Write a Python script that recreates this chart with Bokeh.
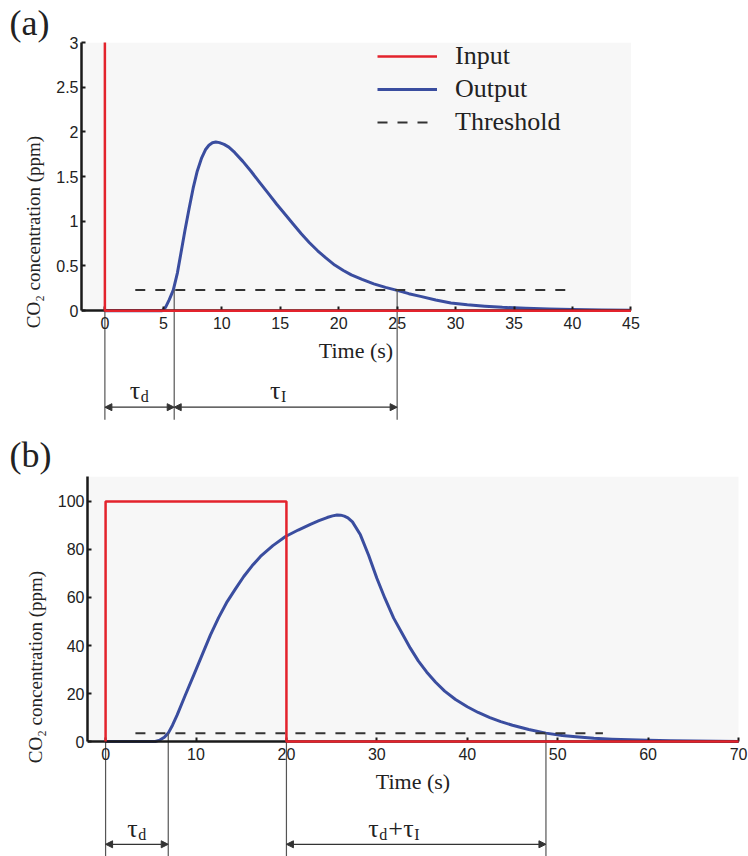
import numpy as np
from bokeh.plotting import figure
from bokeh.models import (ColumnDataSource, BoxAnnotation, Legend, LegendItem, Arrow,
                          NormalHead, Title, Range1d, FixedTicker)
from bokeh.layouts import column, row
from bokeh.embed import file_html
from bokeh.resources import INLINE
from bokeh.core.properties import value

# ---------------- data: panel (a) ----------------
a_input_t = [0, 0, 45]
a_input_c = [3, 0, 0]
a_out_t = [0, 4.9, 5.2, 5.5, 5.85, 6.2, 6.5, 6.84, 7.2, 7.55, 7.9, 8.28, 8.6, 8.9, 9.2, 9.49,
           9.8, 10.2, 10.6, 11.1, 11.8, 12.5, 13.2, 13.96, 14.7, 15.5, 16.1, 16.8, 17.5, 18.2,
           18.9, 19.66, 20.4, 21.08, 22, 23, 24, 25, 26, 27, 28.3, 29.6, 31, 32.5, 34, 36,
           38, 40, 42.5, 45]
a_out_c = [0, 0, 0.04, 0.12, 0.23, 0.42, 0.64, 0.89, 1.14, 1.37, 1.56, 1.71, 1.80, 1.85, 1.878,
           1.886, 1.88, 1.86, 1.83, 1.77, 1.67, 1.56, 1.44, 1.315, 1.19, 1.065, 0.97, 0.86, 0.76,
           0.67, 0.59, 0.51, 0.45, 0.40, 0.35, 0.30, 0.26, 0.227, 0.19, 0.16, 0.12, 0.085,
           0.065, 0.05, 0.037, 0.026, 0.018, 0.012, 0.008, 0.005]
a_thr_t = [2.6, 40.1]
a_thr_c = [0.23, 0.23]
a_yticks = [0, 0.5, 1, 1.5, 2, 2.5, 3]
a_ytick_labels = ["0", "0.5", "1", "1.5", "2", "2.5", "3"]
a_xticks = [0, 5, 10, 15, 20, 25, 30, 35, 40, 45]
a_marks = [0, 5.93, 25]          # t=0, end of tau_d, end of tau_I
a_mark_top = [0, 0.23, 0.23]

# ---------------- data: panel (b) ----------------
b_input_t = [0, 0, 20, 20, 70]
b_input_c = [0, 100, 100, 0, 0]
b_out_t = [0, 5.5, 6.0, 6.5, 6.93, 7.4, 7.92, 8.8, 9.76, 10.7, 11.6, 12.5, 13.45, 14.4,
           15.28, 16.2, 17.13, 18.5, 19.9, 21.3, 22.65, 23.6, 24.5, 25.1, 25.6, 26.0, 26.4,
           26.8, 27.3, 28.18, 29.1, 30.0, 30.9, 31.86, 32.8, 33.7, 34.6, 35.5, 36.5, 37.5,
           38.7, 40, 41.2, 42.5, 43.7, 45, 46.8, 48.7, 50.5, 52, 54, 56, 58, 60, 62.5, 65,
           67.5, 70]
b_out_c = [0, 0, 0.6, 1.8, 3.5, 6.8, 11.1, 19.2, 27.8, 36.3, 44.4, 51.6, 58.3, 63.8,
           68.75, 73.2, 77.1, 81.6, 85.4, 88.1, 90.5, 92.0, 93.3, 94.0, 94.4, 94.3, 93.9,
           93.2, 91.5, 86.1, 77.5, 68, 59.6, 51.4, 45.0, 38.9, 33.5, 29, 24.7, 21,
           17.5, 14.5, 12.1, 10, 8.3, 6.8, 5.0, 3.5, 2.5, 2.0, 1.4, 1.0, 0.7, 0.5, 0.3, 0.2,
           0.1, 0.05]
b_thr_t = [3.3, 55]
b_thr_c = [3.5, 3.5]
b_yticks = [0, 20, 40, 60, 80, 100]
b_xticks = [0, 10, 20, 30, 40, 50, 60, 70]
b_marks = [0, 6.93, 20, 48.7]
b_mark_top = [0, 3.5, 0, 3.5]

RED = "#e3232c"
BLUE = "#3a4d9f"
GRAY_BG = "#f7f7f7"
SERIF = "Liberation Serif"
SANS = "Liberation Sans"


def base_fig(xr, yr, data_right, fw, fh, left, right, top, label, title_standoff):
    p = figure(x_range=Range1d(*xr), y_range=Range1d(*yr), frame_width=fw, frame_height=fh,
               min_border_left=left, min_border_right=right, min_border_top=top,
               min_border_bottom=0, output_backend="svg", toolbar_location=None)
    p.title = Title(text=label, text_font=SERIF, text_font_size="36px", text_font_style="normal",
                    align="left", offset=-(left - 9), standoff=title_standoff,
                    text_line_height=0.9, text_color="#222")
    p.background_fill_color = "white"
    p.border_fill_color = "white"
    p.outline_line_color = None
    p.xgrid.visible = False
    p.ygrid.visible = False
    p.add_layout(BoxAnnotation(bottom=0, right=data_right, fill_color=GRAY_BG, fill_alpha=1,
                               line_color=None, level="underlay"))
    for ax in (p.xaxis[0], p.yaxis[0]):
        ax.axis_line_width = 2.5
        ax.axis_line_color = "#1a1a1a"
        ax.major_tick_in = 4
        ax.major_tick_out = 0
        ax.major_tick_line_width = 2
        ax.major_tick_line_color = "#1a1a1a"
        ax.minor_tick_line_color = None
        ax.major_label_text_font = SANS
        ax.major_label_text_font_size = "16px"
        ax.major_label_text_color = "#222"
        ax.axis_label_text_font = SERIF
        ax.axis_label_text_font_style = "normal"
        ax.axis_label_text_color = "#222"
    p.xaxis.fixed_location = 0
    p.xaxis.axis_label = "Time (s)"
    p.xaxis.axis_label_text_font_size = "22px"
    p.xaxis.axis_label_standoff = 6
    p.xaxis.major_label_standoff = 6
    p.xaxis.bounds = (xr[0], data_right)
    p.yaxis.axis_label = "CO\u2082 concentration (ppm)"
    p.yaxis.axis_label_text_font_size = "19px"
    p.yaxis.axis_label_standoff = 9
    p.yaxis.major_label_standoff = 3
    p.yaxis.bounds = (0, yr[1])
    return p


def tau_labels(p, xc, y, pieces):
    # pieces: (text, size, dx, dy) drawn around a common anchor
    for txt, size, dx, dy in pieces:
        p.text(x=[xc], y=[y], text=[txt], text_font=value(SERIF), text_font_size=size,
               text_align="left", text_baseline="middle", text_color="#222",
               x_offset=dx, y_offset=dy)


def annotate(p, marks, tops, bottom, arrow_y, pairs):
    src = ColumnDataSource(dict(x=marks, y0=tops, y1=[bottom] * len(marks)))
    p.segment(x0="x", y0="y0", x1="x", y1="y1", source=src, line_color="#555", line_width=1.2)
    for i, j in pairs:
        asrc = ColumnDataSource(dict(x0=[marks[i]], x1=[marks[j]], y=[arrow_y]))
        p.add_layout(Arrow(x_start="x0", y_start="y", x_end="x1", y_end="y", source=asrc,
                           line_color="#333", line_width=1.2,
                           start=NormalHead(size=7, fill_color="#333", line_color="#333"),
                           end=NormalHead(size=7, fill_color="#333", line_color="#333")))


# ---------------- panel (a) ----------------
pa = base_fig((-2, 46.5), (-1.24, 3), 45, 567, 379, 81, 100, 41, "(a)", 0)
pa.xaxis.ticker = FixedTicker(ticks=a_xticks)
pa.yaxis.ticker = FixedTicker(ticks=a_yticks)
pa.yaxis.major_label_overrides = dict(zip(a_yticks, a_ytick_labels))

ra_out = pa.line(a_out_t, a_out_c, line_color=BLUE, line_width=3, line_join="round")
ra_in = pa.line(a_input_t, a_input_c, line_color=RED, line_width=2.5, level="overlay")
ra_thr = pa.line(a_thr_t, a_thr_c, line_color="#333", line_width=2, line_dash="10 10")

annotate(pa, a_marks, a_mark_top, -1.22, -1.08, [(0, 1), (1, 2)])
tau_labels(pa, 2.9, -0.89, [("τ", "26px", -9, 0), ("d", "16px", 2, 6)])
tau_labels(pa, 14.8, -0.89, [("τ", "26px", -8, 0), ("I", "16px", 3, 6)])

leg = Legend(items=[LegendItem(label="Input", renderers=[ra_in]),
                    LegendItem(label="Output", renderers=[ra_out]),
                    LegendItem(label="Threshold", renderers=[ra_thr])],
             location=(296, 284), orientation="vertical",
             background_fill_alpha=0, border_line_color=None, padding=0, margin=0,
             spacing=3, glyph_width=60, glyph_height=30, label_height=30,
             label_standoff=18, label_text_font=SERIF, label_text_font_size="26px",
             label_text_color="#222")
pa.add_layout(leg)

# ---------------- panel (b) ----------------
pb = base_fig((-2, 71.1), (-48.3, 110.4), 70, 661, 381, 87, 0, 55, "(b)", 4)
pb.xaxis.ticker = FixedTicker(ticks=b_xticks)
pb.yaxis.ticker = FixedTicker(ticks=b_yticks)

pb.line(b_out_t, b_out_c, line_color=BLUE, line_width=3, line_join="round")
pb.line(b_input_t, b_input_c, line_color=RED, line_width=2.5, level="overlay")
pb.line(b_thr_t, b_thr_c, line_color="#333", line_width=2, line_dash="10 10")

annotate(pb, b_marks, b_mark_top, -48.3, -42.8, [(0, 1), (2, 3)])
tau_labels(pb, 3.4, -36.1, [("τ", "26px", -9, 0), ("d", "16px", 2, 6)])
tau_labels(pb, 31.7, -36.1,
           [("τ", "26px", -24, 0), ("d", "16px", -13, 6), ("+", "26px", -4, 0),
            ("τ", "26px", 11, 0), ("I", "16px", 22, 6)])

layout = column(row(pa), row(pb), spacing=0)
open("out.html", "w").write(file_html(layout, INLINE))
